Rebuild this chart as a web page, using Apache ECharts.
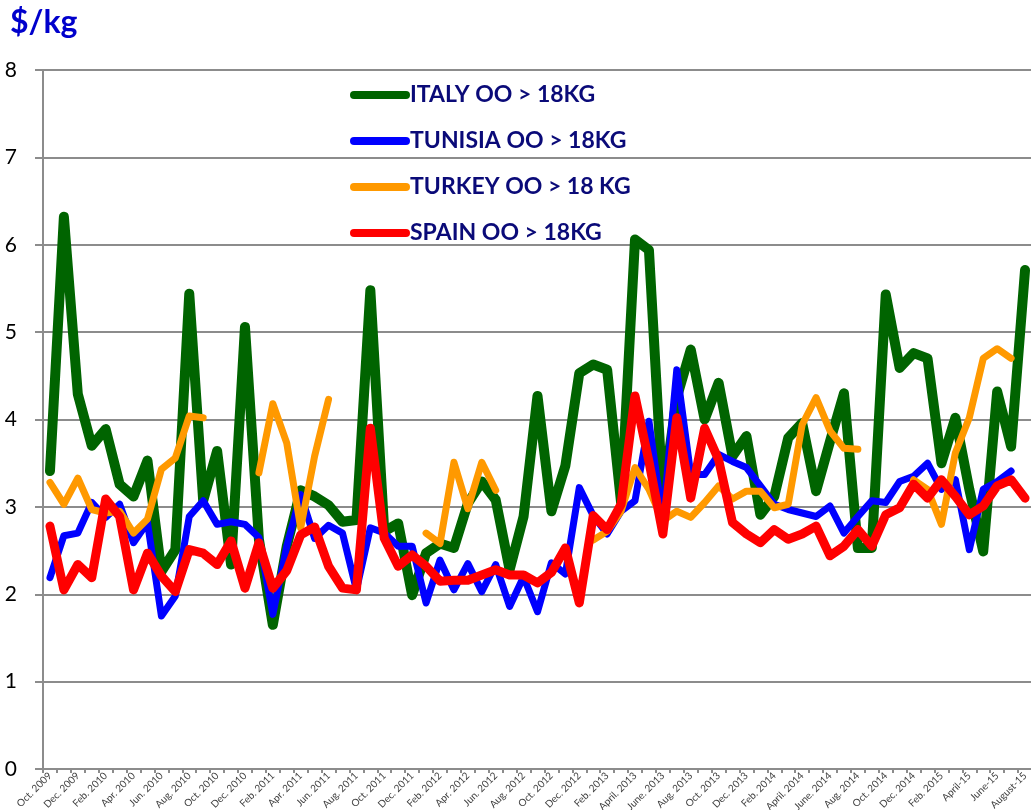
<!DOCTYPE html>
<html>
<head>
<meta charset="utf-8">
<script src="https://cdn.jsdelivr.net/npm/echarts@6/dist/echarts.min.js"></script>
<style>
html,body{margin:0;padding:0;background:#fff;}
#chart{width:1031px;height:810px;}
</style>
</head>
<body>
<div id="chart"></div>
<script>
const months = [
"Oct. 2009","Nov. 2009","Dec. 2009","Jan. 2010","Feb. 2010","Mar. 2010","Apr. 2010","May 2010","Jun. 2010","Jul. 2010",
"Aug. 2010","Sep. 2010","Oct. 2010","Nov. 2010","Dec. 2010","Jan. 2011","Feb. 2011","Mar. 2011","Apr. 2011","May 2011",
"Jun. 2011","Jul. 2011","Aug. 2011","Sep. 2011","Oct. 2011","Nov. 2011","Dec. 2011","Jan. 2012","Feb. 2012","Mar. 2012",
"Apr. 2012","May 2012","Jun. 2012","Jul. 2012","Aug. 2012","Sep. 2012","Oct. 2012","Nov. 2012","Dec. 2012","Jan. 2013",
"Feb. 2013","March. 2013","April. 2013","May. 2013","June. 2013","July. 2013","Aug. 2013","Sep. 2013","Oct. 2013","Nov. 2013",
"Dec. 2013","Jan. 2014","Feb. 2014","March. 2014","April. 2014","May. 2014","June. 2014","July. 2014","Aug. 2014","Sep. 2014",
"Oct. 2014","Nov. 2014","Dec. 2014","Jan. 2015","Feb. 2015","March-15","April-15","May-15","June-15","July-15","August-15"
];

const italy = [
3.41,6.32,4.29,3.70,3.89,3.26,3.12,3.53,2.26,2.51,
5.44,3.07,3.64,2.34,5.06,2.63,1.65,2.55,3.19,3.12,
3.02,2.83,2.85,5.48,2.72,2.81,1.99,2.47,2.58,2.53,
3.04,3.29,3.08,2.28,2.89,4.27,2.95,3.47,4.53,4.63,
4.57,3.05,6.06,5.94,3.10,4.25,4.80,4.00,4.42,3.58,
3.81,2.91,3.12,3.79,3.96,3.18,3.75,4.30,2.53,2.53,
5.43,4.59,4.76,4.70,3.50,4.02,3.20,2.49,4.32,3.69,5.71
];

const tunisia = [
2.19,2.67,2.70,3.05,2.88,3.03,2.59,2.82,1.75,1.98,
2.89,3.07,2.80,2.83,2.80,2.65,1.77,2.55,3.14,2.64,
2.79,2.70,2.05,2.76,2.70,2.55,2.55,1.90,2.39,2.05,
2.35,2.03,2.34,1.86,2.20,1.80,2.36,2.23,3.22,2.90,
2.69,2.95,3.07,3.98,2.85,4.57,3.37,3.37,3.60,3.52,
3.45,3.24,3.03,2.97,2.93,2.89,3.01,2.70,2.89,3.07,
3.05,3.29,3.35,3.50,3.20,3.31,2.51,3.20,3.29,3.41,null
];

const turkey = [
3.28,3.03,3.33,2.97,2.93,2.95,2.70,2.86,3.43,3.56,
4.04,4.02,null,null,null,3.39,4.18,3.73,2.76,3.58,
4.23,null,null,null,null,null,null,2.70,2.58,3.51,
2.98,3.51,3.19,null,null,null,null,null,null,2.62,
2.72,2.95,3.45,3.20,2.84,2.95,2.88,3.05,3.24,3.09,
3.18,3.18,2.99,3.03,3.94,4.25,3.87,3.67,3.66,null,
null,null,3.31,3.20,2.80,3.62,4.02,4.70,4.81,4.70,null
];

const spain = [
2.78,2.05,2.34,2.19,3.09,2.89,2.05,2.47,2.21,2.03,
2.51,2.47,2.34,2.61,2.07,2.59,2.07,2.27,2.68,2.77,
2.32,2.07,2.05,3.90,2.64,2.32,2.45,2.32,2.15,2.16,
2.16,2.22,2.28,2.22,2.22,2.13,2.25,2.53,1.90,2.90,
2.74,3.03,4.27,3.52,2.69,4.02,3.10,3.90,3.54,2.82,
2.69,2.59,2.74,2.63,2.69,2.78,2.44,2.55,2.74,2.55,
2.91,2.99,3.26,3.10,3.31,3.12,2.91,3.01,3.24,3.31,3.10
];

const seriesNames = ["ITALY OO > 18KG","TUNISIA OO > 18KG","TURKEY OO > 18 KG","SPAIN OO > 18KG"];
const seriesColors = ["#006400","#0000FF","#FF9900","#FF0000"];
const seriesWidths = [10,7,7,9];
const seriesData = [italy, tunisia, turkey, spain];

const FONT = "Lato, 'Open Sans', sans-serif";
const chart = echarts.init(document.getElementById('chart'));
const stadium = 'path://M4,0 L56,0 A4,4 0 0 1 56,8 L4,8 A4,4 0 0 1 4,0 Z';

chart.setOption({
  animation: false,
  backgroundColor: '#fff',
  title: {
    text: '$/kg', left: 5, top: 2,
    textStyle: {color: '#0000CC', fontSize: 32, fontWeight: 'bold', fontFamily: FONT}
  },
  grid: {left: 43, right: -1, top: 70, bottom: 41, containLabel: false, outerBoundsMode: 'none'},
  legend: {
    orient: 'vertical', left: 345, top: 78,
    itemWidth: 60, itemHeight: 8, itemGap: 22,
    icon: stadium,
    textStyle: {color: '#0A0A78', fontSize: 23, fontWeight: 'bold', fontFamily: FONT, lineHeight: 24, padding: [0,0,0,-5]},
    data: seriesNames
  },
  xAxis: {
    type: 'category', data: months, boundaryGap: true,
    axisLine: {lineStyle: {color: '#8c8c8c', width: 2}},
    axisTick: {show: true, interval: 0, length: 4, lineStyle: {color: '#8c8c8c', width: 2}},
    axisLabel: {interval: 1, rotate: 45, fontSize: 10, color: '#404040', fontFamily: FONT, margin: 5}
  },
  yAxis: {
    type: 'value', min: 0, max: 8, interval: 1,
    axisLine: {show: true, lineStyle: {color: '#8c8c8c', width: 2}},
    axisTick: {show: true, length: 8, lineStyle: {color: '#8c8c8c', width: 2}},
    axisLabel: {fontSize: 21, color: '#000', fontFamily: FONT, margin: 26},
    splitLine: {show: true, lineStyle: {color: '#8c8c8c', width: 2}}
  },
  series: seriesNames.map((n, k) => ({
    name: n, type: 'line', data: seriesData[k], symbol: 'none', connectNulls: false,
    itemStyle: {color: seriesColors[k]},
    lineStyle: {color: seriesColors[k], width: seriesWidths[k], cap: 'round', join: 'round'},
    z: 2 + k
  }))
});
</script>
</body>
</html>
